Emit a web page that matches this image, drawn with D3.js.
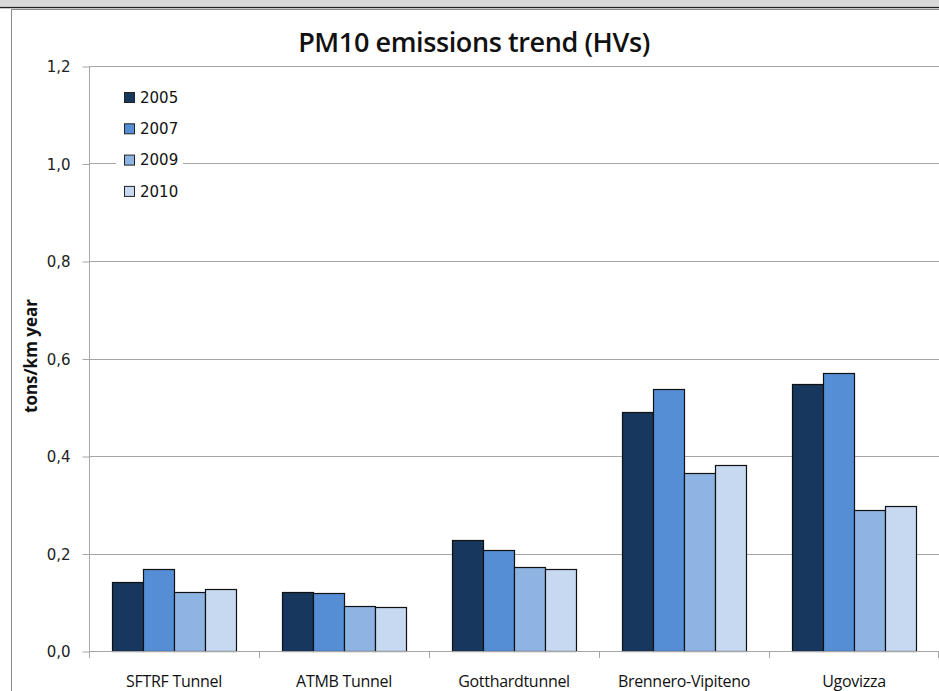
<!DOCTYPE html>
<html>
<head>
<meta charset="utf-8">
<script src="https://cdn.jsdelivr.net/npm/d3@7"></script>
<style>
  body { margin: 0; background: #fff; }
  svg { display: block; }
</style>
</head>
<body>
<div id="chart"></div>
<script>
var categories = ["SFTRF Tunnel", "ATMB Tunnel", "Gotthardtunnel", "Brennero-Vipiteno", "Ugovizza"];
var years = ["2005", "2007", "2009", "2010"];
var v2005 = [0.142, 0.122, 0.228, 0.491, 0.547];
var v2007 = [0.169, 0.120, 0.208, 0.538, 0.570];
var v2009 = [0.122, 0.092, 0.173, 0.366, 0.289];
var v2010 = [0.128, 0.090, 0.169, 0.382, 0.298];
var yTicks = [0, 0.2, 0.4, 0.6, 0.8, 1.0, 1.2];
var colors = ["#17375e", "#558ed5", "#8eb4e3", "#c6d9f1"];

var series = [v2005, v2007, v2009, v2010];
var data = categories.map(function (c, i) {
  return { cat: c, vals: years.map(function (y, j) { return { year: y, v: series[j][i] }; }) };
});

var W = 939, H = 691;
var svg = d3.select("#chart").append("svg").attr("width", W).attr("height", H);

// frame bits
svg.append("rect").attr("x", 0).attr("y", 0).attr("width", W).attr("height", 6).attr("fill", "#d9d9d9");
svg.append("line").attr("x1", 0).attr("x2", W).attr("y1", 7.5).attr("y2", 7.5).attr("stroke", "#222").attr("stroke-width", 1.5);
svg.append("line").attr("x1", 11.5).attr("x2", 11.5).attr("y1", 9).attr("y2", H).attr("stroke", "#888");
svg.append("line").attr("x1", 11).attr("x2", W).attr("y1", 9.5).attr("y2", 9.5).attr("stroke", "#888");

var plotLeft = 89, plotRight = 939, plotTop = 66, plotBottom = 651;

var x0 = d3.scaleBand().domain(categories).range([plotLeft, plotRight]).padding(0);
var x1 = d3.scaleBand().domain(years).range([23, 147]).padding(0);
var y = d3.scaleLinear().domain([0, 1.2]).range([plotBottom, plotTop]);

var fmt = function (d) { return d3.format(".1f")(d).replace(".", ","); };

// gridlines
svg.append("g").selectAll("line").data(yTicks.slice(1)).enter().append("line")
  .attr("x1", plotLeft).attr("x2", plotRight)
  .attr("y1", function (d) { return Math.round(y(d)) + 0.5; })
  .attr("y2", function (d) { return Math.round(y(d)) + 0.5; })
  .attr("stroke", "#a6a6a6").attr("stroke-width", 1);

// y axis
var yAxis = d3.axisLeft(y).tickValues(yTicks).tickFormat(fmt).tickSize(7).tickPadding(12);
var ga = svg.append("g").attr("transform", "translate(" + (plotLeft + 0.5) + ",0.5)").call(yAxis);
ga.select(".domain").attr("stroke", "#a6a6a6").attr("d", "M0," + plotTop + "V" + plotBottom);
ga.selectAll(".tick line").attr("stroke", "#a6a6a6");
ga.selectAll("text").attr("font-family", "DejaVu Sans, Verdana, sans-serif").attr("font-size", 15).attr("fill", "#222").attr("dy", "0.35em");

// bars
var groups = svg.append("g").selectAll("g").data(data).enter().append("g")
  .attr("transform", function (d) { return "translate(" + x0(d.cat) + ",0)"; });
groups.selectAll("rect").data(function (d) { return d.vals; }).enter().append("rect")
  .attr("x", function (d) { return x1(d.year) + 0.5; })
  .attr("y", function (d) { return Math.round(y(d.v)) + 0.5; })
  .attr("width", x1.bandwidth())
  .attr("height", function (d) { return plotBottom - Math.round(y(d.v)); })
  .attr("fill", function (d, i) { return colors[i]; })
  .attr("stroke", "#111").attr("stroke-width", 1.2);

// x axis
var xAxis = d3.axisBottom(x0).tickSize(0).tickPadding(24);
var gx = svg.append("g").attr("transform", "translate(0," + (plotBottom + 0.5) + ")").call(xAxis);
gx.select(".domain").attr("stroke", "#a6a6a6").attr("d", "M" + plotLeft + ",0H" + plotRight);
gx.selectAll("text").attr("font-family", "Open Sans, sans-serif").attr("font-size", 16).attr("fill", "#111").attr("letter-spacing", "-0.3");
var sepTicks = categories.map(function (c) { return x0(c); }).concat([plotRight - 1]);
svg.append("g").selectAll("line").data(sepTicks).enter().append("line")
  .attr("x1", function (d) { return Math.round(d) + 0.5; })
  .attr("x2", function (d) { return Math.round(d) + 0.5; })
  .attr("y1", plotBottom).attr("y2", plotBottom + 7)
  .attr("stroke", "#a6a6a6");

// title
svg.append("text").attr("x", 474).attr("y", 52).attr("text-anchor", "middle")
  .attr("font-family", "Open Sans, sans-serif").attr("font-size", 27).attr("font-weight", 600)
  .attr("letter-spacing", "-0.4").attr("fill", "#111").text("PM10 emissions trend (HVs)");

// y label
svg.append("text").attr("text-anchor", "middle")
  .attr("transform", "translate(37,356)rotate(-90)")
  .attr("font-family", "Open Sans, sans-serif").attr("font-size", 17).attr("font-weight", 700)
  .attr("fill", "#111").text("tons/km year");

// legend (white box hides gridline behind it)
svg.append("rect").attr("x", 116).attr("y", 82).attr("width", 67).attr("height", 124).attr("fill", "#fff");
var lg = svg.append("g").selectAll("g").data(years).enter().append("g")
  .attr("transform", function (d, i) { return "translate(124," + (92 + i * 31.3) + ")"; });
lg.append("rect").attr("x", 0.5).attr("y", 0.5).attr("width", 10).attr("height", 10)
  .attr("fill", function (d, i) { return colors[i]; }).attr("stroke", "#222");
lg.append("text").attr("x", 16).attr("y", 5.5).attr("dy", "0.35em")
  .attr("font-family", "DejaVu Sans, Verdana, sans-serif").attr("font-size", 15).attr("fill", "#111")
  .text(function (d) { return d; });
</script>
</body>
</html>
